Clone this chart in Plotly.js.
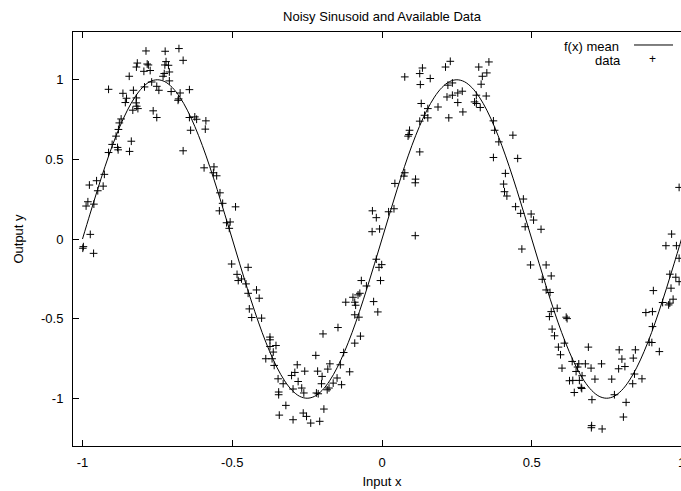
<!DOCTYPE html>
<html>
<head>
<meta charset="utf-8">
<script src="https://cdn.plot.ly/plotly-3.0.1.min.js"></script>
<style>
html,body{margin:0;padding:0;overflow:hidden;background:#fff;}
#chart{width:700px;height:491px;}
</style>
</head>
<body>
<div id="chart"></div>
<script>
// ---- data ----
const chartTitle = "Noisy Sinusoid and Available Data";
const xLabel = "Input x";
const yLabel = "Output y";
const meanName = "f(x) mean";
const dataName = "data";

const xTickVals = [-1, -0.5, 0, 0.5, 1];
const xTickText = ["-1", "-0.5", "0", "0.5", "1"];
const yTickVals = [-1, -0.5, 0, 0.5, 1];
const yTickText = ["-1", "-0.5", "0", "0.5", "1"];

// mean curve
const meanX = [-1,-0.975,-0.95,-0.925,-0.9,-0.875,-0.85,-0.825,-0.8,-0.775,-0.75,-0.725,-0.7,-0.675,-0.65,-0.625,-0.6,-0.575,-0.55,-0.525,
 -0.5,-0.475,-0.45,-0.425,-0.4,-0.375,-0.35,-0.325,-0.3,-0.275,-0.25,-0.225,-0.2,-0.175,-0.15,-0.125,-0.1,-0.075,-0.05,-0.025,
 0,0.025,0.05,0.075,0.1,0.125,0.15,0.175,0.2,0.225,0.25,0.275,0.3,0.325,0.35,0.375,0.4,0.425,0.45,0.475,
 0.5,0.525,0.55,0.575,0.6,0.625,0.65,0.675,0.7,0.725,0.75,0.775,0.8,0.825,0.85,0.875,0.9,0.925,0.95,0.975,1];
const meanY = [0,0.156,0.309,0.454,0.588,0.707,0.809,0.891,0.951,0.988,1,0.988,0.951,0.891,0.809,0.707,0.588,0.454,0.309,0.156,
 0,-0.156,-0.309,-0.454,-0.588,-0.707,-0.809,-0.891,-0.951,-0.988,-1,-0.988,-0.951,-0.891,-0.809,-0.707,-0.588,-0.454,-0.309,-0.156,
 0,0.156,0.309,0.454,0.588,0.707,0.809,0.891,0.951,0.988,1,0.988,0.951,0.891,0.809,0.707,0.588,0.454,0.309,0.156,
 0,-0.156,-0.309,-0.454,-0.588,-0.707,-0.809,-0.891,-0.951,-0.988,-1,-0.988,-0.951,-0.891,-0.809,-0.707,-0.588,-0.454,-0.309,-0.156,0];

const dataX = [
 -0.788,-0.724,-0.678,-0.664,-0.817,-0.820,-0.784,-0.780,-0.721,-0.725,-0.713,-0.795,-0.774,-0.710,-0.727,-0.731,-0.844,-0.710,-0.769,-0.752,
 -0.745,-0.793,-0.913,-0.830,-0.865,-0.704,-0.674,-0.643,-0.679,-0.681,-0.820,-0.853,-0.857,-0.821,-0.819,-0.815,-0.832,-0.764,-0.752,-0.643,
 -0.625,-0.619,-0.588,-0.639,-0.590,-0.871,-0.877,-0.880,-0.888,-0.901,-0.837,-0.843,-0.883,-0.881,-0.913,-0.664,-0.594,-0.561,-0.563,-0.552,
 -0.927,-0.953,-0.977,-0.949,-0.931,-0.962,-0.982,-0.988,-0.541,-0.532,-0.543,-0.489,-0.519,-0.507,-0.510,
 -0.502,-0.447,-0.484,-0.480,-0.469,-0.454,-0.419,-0.447,-0.410,-0.443,
 -0.974,-0.997,-0.999,-0.963,-0.435,
 -0.402,-0.374,-0.374,-0.354,-0.374,-0.363,-0.388,-0.367,-0.360,-0.347,-0.330,-0.345,-0.345,-0.321,-0.343,-0.297,-0.263,-0.252,-0.238,-0.208,
 -0.194,-0.302,-0.291,-0.283,-0.280,-0.268,-0.258,-0.261,-0.297,-0.221,-0.215,-0.200,-0.202,-0.197,-0.181,-0.174,-0.177,-0.183,-0.219,-0.213,
 -0.163,-0.150,-0.135,-0.139,-0.128,-0.108,-0.147,-0.091,-0.072,-0.077,-0.091,-0.088,-0.091,-0.097,-0.080,-0.074,-0.121,-0.069,-0.052,-0.028,
 -0.014,-0.005,-0.019,-0.010,-0.001,-0.032,-0.019,-0.008,-0.033,0.022,0.040,0.043,0.111,0.111,
 0.076,0.126,0.135,0.128,0.161,0.212,0.228,0.323,0.357,0.350,0.335,0.331,0.220,0.235,0.217,0.235,0.253,0.268,0.315,0.348,
 0.309,0.315,0.328,0.131,0.153,0.187,0.253,0.270,0.223,0.142,0.153,0.126,0.092,0.090,0.087,0.126,0.076,0.073,0.112,0.372,
 0.376,0.390,0.437,0.372,0.453,0.412,0.406,0.409,0.417,0.472,0.446,0.463,0.498,0.506,0.531,0.478,
 0.992,
 0.467,0.496,0.548,0.565,0.535,0.548,0.561,0.565,0.585,0.559,0.615,0.618,0.568,0.576,0.609,0.589,0.596,0.689,0.635,0.657,
 0.679,0.653,0.601,0.698,0.733,0.648,0.668,0.626,0.637,0.659,0.711,0.767,0.665,0.667,0.642,0.792,0.801,0.811,0.839,0.846,
 0.790,0.843,0.868,0.837,0.701,0.776,0.815,0.806,0.700,0.699,0.735,0.881,0.903,0.903,0.892,0.901,0.926,0.906,0.937,0.957,
 0.961,0.972,0.965,0.961,0.981,0.992,0.948,0.983,0.992,0.967];
const dataY = [
 1.181,1.179,1.196,1.122,1.105,1.080,1.099,1.093,1.114,1.093,1.091,1.053,1.058,1.049,1.039,1.022,1.022,0.993,0.986,0.959,
 0.934,0.955,0.940,0.934,0.915,0.926,0.917,0.938,0.880,0.871,0.886,0.884,0.857,0.855,0.834,0.819,0.809,0.805,0.763,0.763,
 0.767,0.752,0.742,0.683,0.690,0.754,0.729,0.688,0.646,0.594,0.614,0.550,0.575,0.560,0.543,0.554,0.447,0.453,0.416,0.397,
 0.406,0.366,0.339,0.303,0.332,0.219,0.234,0.207,0.290,0.224,0.177,0.202,0.102,0.107,0.067,
 -0.157,-0.178,-0.222,-0.261,-0.251,-0.282,-0.320,-0.341,-0.372,-0.439,
 0.029,-0.048,-0.058,-0.090,-0.493,
 -0.497,-0.616,-0.633,-0.669,-0.675,-0.710,-0.752,-0.752,-0.794,-0.878,-0.909,-0.961,-0.978,-1.045,-1.106,-1.135,-1.093,-1.114,-1.156,-1.145,
 -1.068,-0.857,-0.838,-0.790,-0.895,-0.936,-0.830,-0.967,-0.942,-0.731,-0.830,-0.863,-0.909,-0.596,-0.817,-0.784,-0.936,-0.947,-0.967,-0.972,
 -0.905,-0.873,-0.915,-0.790,-0.713,-0.834,-0.556,-0.654,-0.610,-0.491,-0.476,-0.416,-0.397,-0.366,-0.351,-0.341,-0.397,-0.261,-0.295,-0.393,
 -0.458,-0.261,-0.127,-0.178,-0.161,0.177,0.134,0.063,0.046,0.171,0.190,0.349,0.353,0.021,
 1.018,1.039,1.074,0.970,1.008,1.080,1.116,1.080,1.112,1.043,1.022,0.972,0.966,0.980,0.892,0.903,0.917,0.928,0.903,0.898,
 0.861,0.851,0.826,0.851,0.819,0.829,0.857,0.798,0.761,0.777,0.761,0.740,0.683,0.656,0.646,0.547,0.416,0.395,0.376,0.742,
 0.683,0.610,0.652,0.512,0.506,0.412,0.345,0.297,0.270,0.251,0.203,0.161,0.157,0.119,0.061,0.077,
 0.324,
 -0.063,-0.163,-0.163,-0.232,-0.253,-0.320,-0.336,-0.456,-0.435,-0.487,-0.491,-0.500,-0.566,-0.608,-0.654,-0.679,-0.727,-0.679,-0.769,-0.784,
 -0.784,-0.804,-0.811,-0.811,-0.784,-0.832,-0.859,-0.890,-0.888,-0.888,-0.880,-0.880,-0.932,-0.939,-0.964,-0.696,-0.754,-0.801,-0.748,-0.696,
 -0.815,-0.848,-0.878,-0.909,-1.009,-0.978,-1.026,-1.118,-1.172,-1.185,-1.193,-0.462,-0.456,-0.550,-0.648,-0.650,-0.707,-0.324,-0.399,-0.414,
 -0.403,-0.378,-0.309,-0.221,-0.240,-0.268,-0.042,-0.042,-0.121,0.031];

// ---- chart ----
const FONT = "Liberation Sans, Arial, Helvetica, sans-serif";

const traces = [
  {
    x: meanX, y: meanY, name: meanName, type: "scatter", mode: "lines",
    line: {color: "#000000", width: 1, shape: "spline"},
    hoverinfo: "skip"
  },
  {
    x: dataX, y: dataY, name: dataName, type: "scatter", mode: "markers",
    marker: {symbol: "cross-thin-open", size: 5.5, color: "#000000", line: {color: "#000000", width: 1}}
  }
];

const axisCommon = {
  showgrid: false, zeroline: false, showline: true, linecolor: "#000000", linewidth: 1,
  mirror: "ticks", ticks: "inside", ticklen: 6, tickwidth: 1, tickcolor: "#000000",
  tickfont: {family: FONT, size: 13, color: "#000000"}, fixedrange: true
};

const layout = {
  width: 700, height: 491,
  margin: {l: 73, r: 9, t: 32, b: 45, pad: 0},
  paper_bgcolor: "#ffffff", plot_bgcolor: "#ffffff",
  showlegend: false,
  font: {family: FONT, size: 13, color: "#000000"},
  title: {text: chartTitle, x: 0.5, xref: "paper", xanchor: "center",
          y: 1 - 16/491, yref: "container", yanchor: "middle",
          font: {family: FONT, size: 13, color: "#000000"}},
  xaxis: Object.assign({}, axisCommon, {
    range: [-1.0317, 1.0317], tickvals: xTickVals, ticktext: xTickText,
    ticklabelstandoff: 4,
    title: {text: xLabel, standoff: 8, font: {family: FONT, size: 13, color: "#000000"}}
  }),
  yaxis: Object.assign({}, axisCommon, {
    range: [-1.3, 1.3], tickvals: yTickVals, ticktext: yTickText,
    ticklabelstandoff: 6,
    title: {text: yLabel, standoff: 14, font: {family: FONT, size: 13, color: "#000000"}}
  }),
  shapes: [
    {type: "line", xref: "paper", yref: "paper", x0: 0.9078, x1: 0.9709, y0: 0.9686, y1: 0.9686,
     line: {color: "#000000", width: 1}}
  ],
  annotations: [
    {text: meanName, xref: "paper", yref: "paper", x: 0.8867, y: 0.9638, xanchor: "right", yanchor: "middle",
     showarrow: false, font: {family: FONT, size: 13, color: "#000000"}},
    {text: dataName, xref: "paper", yref: "paper", x: 0.8900, y: 0.9320, xanchor: "right", yanchor: "middle",
     showarrow: false, font: {family: FONT, size: 13, color: "#000000"}},
    {text: "+", xref: "paper", yref: "paper", x: 0.9385, y: 0.9348, xanchor: "center", yanchor: "middle",
     showarrow: false, font: {family: FONT, size: 12, color: "#000000"}}
  ]
};

Plotly.newPlot("chart", traces, layout, {displayModeBar: false, staticPlot: true});
</script>
</body>
</html>
